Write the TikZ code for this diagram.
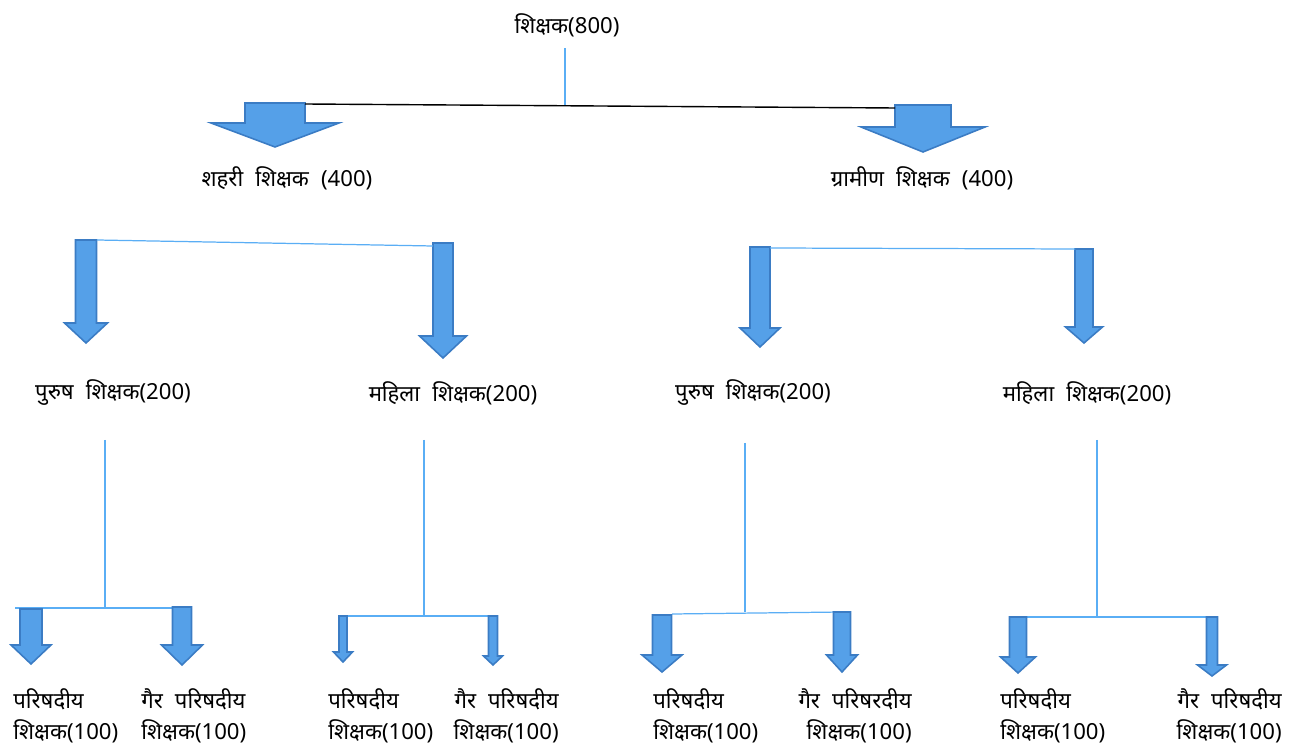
\documentclass[tikz,border=0pt]{standalone}
\usepackage{fontspec}
\setmainfont[Script=Devanagari, WordSpace=2.1]{Noto Sans}
\usepackage{xcolor}
\definecolor{arrowfill}{HTML}{55A0E8}
\definecolor{arrowedge}{HTML}{3B7CC4}
\definecolor{linkblue}{HTML}{5AAEF5}
% block arrow: centre x, shaft half width, head half width, top y, head y, tip y
\newcommand{\blkarrow}[6]{%
  \filldraw[arrowfill, draw=arrowedge, line width=0.9pt, line join=miter]
    (#1-#2,#4) -- (#1+#2,#4) -- (#1+#2,#5) -- (#1+#3,#5) -- (#1,#6)
    -- (#1-#3,#5) -- (#1-#2,#5) -- cycle;}

\begin{document}
\begin{tikzpicture}[x=0.02cm, y=-0.02cm,
    lbl/.style={inner sep=0pt, font=\fontsize{12.6}{17.5}\selectfont},
    link/.style={draw=linkblue, line width=0.7pt}]
  \useasboundingbox (0,0) rectangle (1292,746);

  % top level
  \node[lbl] (root) at (567,25) {शिक्षक(800)};
  \coordinate (rootfoot) at (565,106);
  \draw[link] ([yshift=-0.22cm]root.south -| rootfoot) -- (rootfoot);
  \blkarrow{275}{30}{64}{103}{123}{147}
  \blkarrow{923}{28}{62}{105}{127}{152}
  \coordinate (urbtop) at (305,104);
  \coordinate (rurtop) at (895,108);
  \draw[black, line width=0.8pt] (urbtop) -- (rurtop);
  \node[lbl] (urban) at (287,178) {शहरी शिक्षक (400)};
  \node[lbl] (rural) at (922,178) {ग्रामीण शिक्षक (400)};

  % second level
  \blkarrow{86}{10.5}{21.5}{240}{323}{343}
  \blkarrow{443}{10}{23.5}{243}{336}{358}
  \blkarrow{760}{10}{20}{247}{328}{347}
  \blkarrow{1084}{9}{18.5}{249}{327}{343}
  \coordinate (um) at (97,240);
  \coordinate (uf) at (433,246);
  \coordinate (rm) at (770,248);
  \coordinate (rf) at (1075,249);
  \draw[link] (um) -- (uf);
  \draw[link] (rm) -- (rf);
  \node[lbl] (urbmale) at (113,393) {पुरुष शिक्षक(200)};
  \node[lbl] (urbfem) at (453,393) {महिला शिक्षक(200)};
  \node[lbl] (rurmale) at (753,393) {पुरुष शिक्षक(200)};
  \node[lbl] (rurfem) at (1087,393) {महिला शिक्षक(200)};

  % third level
  \coordinate (j1) at (105,608);
  \coordinate (j2) at (424,616);
  \coordinate (j3) at (745,612);
  \coordinate (j4) at (1097,617);
  \draw[link] (j1 |- 0,440) -- (j1);
  \draw[link] (j2 |- 0,440) -- (j2);
  \draw[link] (j3 |- 0,443) -- (j3);
  \draw[link] (j4 |- 0,440) -- (j4);
  \draw[link] (15,608) -- (191,608);
  \draw[link] (339,616) -- (497,616);
  \draw[link] (672,614) -- (842,612);
  \draw[link] (1010,617) -- (1218,617);

  \blkarrow{31}{11}{20}{609}{645}{664}
  \blkarrow{182}{9.5}{20.5}{607}{645}{665}
  \blkarrow{343}{4}{9.5}{616}{652}{662}
  \blkarrow{493}{4.5}{9.5}{616}{656}{665}
  \blkarrow{662}{9.5}{20}{615}{655}{672}
  \blkarrow{842}{8.5}{15.5}{612}{655}{672}
  \blkarrow{1018}{8.5}{17.5}{617}{657}{673}
  \blkarrow{1212}{5.5}{14.5}{617}{665}{676}

  \node[lbl, align=left, anchor=west] (p1) at (13,716) {परिषदीय\\शिक्षक(100)};
  \node[lbl, align=left, anchor=west] (g1) at (141,716) {गैर परिषदीय\\शिक्षक(100)};
  \node[lbl, align=left, anchor=west] (p2) at (328,716) {परिषदीय\\शिक्षक(100)};
  \node[lbl, align=right, anchor=east] (g2) at (559,716) {गैर परिषदीय\\शिक्षक(100)};
  \node[lbl, align=left, anchor=west] (p3) at (653,716) {परिषदीय\\शिक्षक(100)};
  \node[lbl, align=right, anchor=east] (g3) at (912,716) {गैर परिषरदीय\\शिक्षक(100)\hspace{0.12cm}};
  \node[lbl, align=left, anchor=west] (p4) at (1000,716) {परिषदीय\\शिक्षक(100)};
  \node[lbl, align=right, anchor=east] (g4) at (1282,716) {गैर परिषदीय\\शिक्षक(100)};
\end{tikzpicture}
\end{document}
